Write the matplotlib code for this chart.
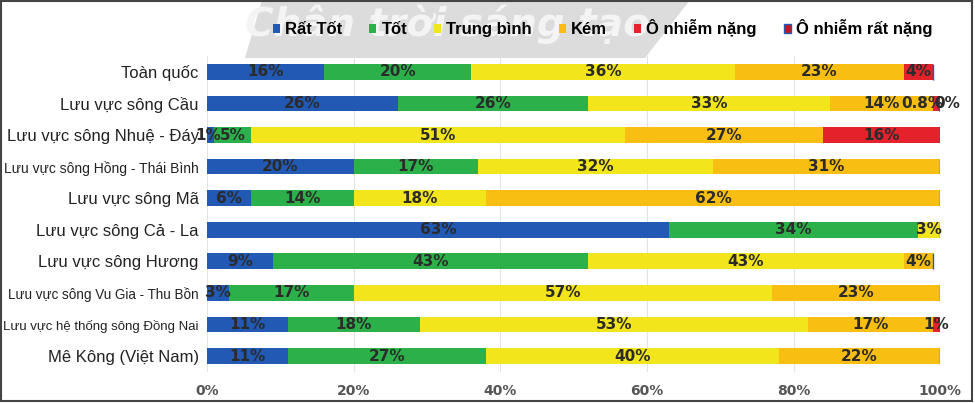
import numpy as np
import matplotlib
matplotlib.use('Agg')
import matplotlib.pyplot as plt
from matplotlib.patches import Polygon, Rectangle

plt.rcParams['font.family'] = ['Liberation Sans', 'DejaVu Sans']

categories = ['Toàn quốc', 'Lưu vực sông Cầu', 'Lưu vực sông Nhuệ - Đáy',
              'Lưu vực sông Hồng - Thái Bình', 'Lưu vực sông Mã', 'Lưu vực sông Cả - La',
              'Lưu vực sông Hương', 'Lưu vực sông Vu Gia - Thu Bồn',
              'Lưu vực hệ thống sông Đồng Nai', 'Mê Kông (Việt Nam)']
series = ['Rất Tốt', 'Tốt', 'Trung bình', 'Kém', 'Ô nhiễm nặng', 'Ô nhiễm rất nặng']
rat_tot    = [16, 26, 1, 20, 6, 63, 9, 3, 11, 11]
tot        = [20, 26, 5, 17, 14, 34, 43, 17, 18, 27]
trung_binh = [36, 33, 51, 32, 18, 3, 43, 57, 53, 40]
kem        = [23, 14, 27, 31, 62, 0, 4, 23, 17, 22]
nang       = [4, 0.8, 16, 0, 0, 0, 0, 0, 1, 0]
rat_nang   = [0, 0, 0, 0, 0, 0, 0, 0, 0, 0]
# (row, series) -> label shift in % units; zero values listed here still get a label
label_shift = {(1, 4): -1.8, (1, 5): 1.2, (2, 0): -0.4}

colors = ['#2159b5', '#2cb04a', '#f3e51c', '#f8bf12', '#e5222b', '#c4161f']
edges = ['none', 'none', 'none', 'none', 'none', '#2159b5']

fig = plt.figure(figsize=(9.75, 4.03), dpi=100)

# watermark banner
bg = fig.add_axes([0, 0, 1, 1], zorder=-5)
bg.set_xlim(0, 975); bg.set_ylim(403, 0); bg.axis('off')
bg.add_patch(Polygon([[262, 0], [690, 0], [645, 58], [245, 58]], closed=True,
                     color='#dcdcdc', lw=0))
bg.text(447, 24, 'Chân trời sáng tạo', fontsize=28, style='italic', fontweight='bold',
        color='#f4f4f4', ha='center', va='center', family='DejaVu Sans')
bg.add_patch(Rectangle([1, 1], 971, 400, fill=False, ec='#444444', lw=1.5))

ax = fig.add_axes([0.2123, 0.077, 0.752, 0.784])
data = np.array([rat_tot, tot, trung_binh, kem, nang, rat_nang], dtype=float)
y = np.arange(len(categories))
left = np.zeros(len(categories))
for i, name in enumerate(series):
    ax.barh(y, data[i], left=left, height=0.5, color=colors[i], edgecolor=edges[i],
            linewidth=1 if edges[i] != 'none' else 0, label=name, zorder=3)
    for j, v in enumerate(data[i]):
        if v > 0 or (j, i) in label_shift:
            xc = left[j] + v / 2 + label_shift.get((j, i), 0)
            ax.text(xc, j, f'{v:g}%', ha='center', va='center', fontsize=11,
                    fontweight='bold', color='#2b2b2b', zorder=5, family='DejaVu Sans')
    left += data[i]

ax.set_ylim(len(categories) - 0.5, -0.5)
ax.set_xlim(0, 100)
ax.set_yticks(y)
ax.set_yticklabels(categories, fontsize=12, color='#222222')
ax.set_xticks([0, 20, 40, 60, 80, 100])
ax.set_xticklabels([f'{t}%' for t in [0, 20, 40, 60, 80, 100]], fontsize=10,
                   fontweight='bold', color='#555555', family='DejaVu Sans')
ax.tick_params(length=0, pad=6)
ax.tick_params(axis='x', pad=9)
ax.grid(axis='x', color='#e3e3e3', lw=0.8, zorder=0)
for s in ax.spines.values():
    s.set_visible(False)
ax.patch.set_alpha(0)

# long labels are squeezed in the original: shrink them until they fit
fig.canvas.draw()
r = fig.canvas.get_renderer()
for lab in ax.get_yticklabels():
    while lab.get_window_extent(r).x0 < 3 and lab.get_fontsize() > 6:
        lab.set_fontsize(lab.get_fontsize() - 0.25)

fig.legend(loc='center', bbox_to_anchor=(0.618, 0.93), ncol=6, frameon=False,
           handlelength=0.45, handleheight=0.45, handletextpad=0.3,
           columnspacing=1.6, prop={'weight': 'bold', 'size': 12})
fig.savefig('out.png', dpi=100)
